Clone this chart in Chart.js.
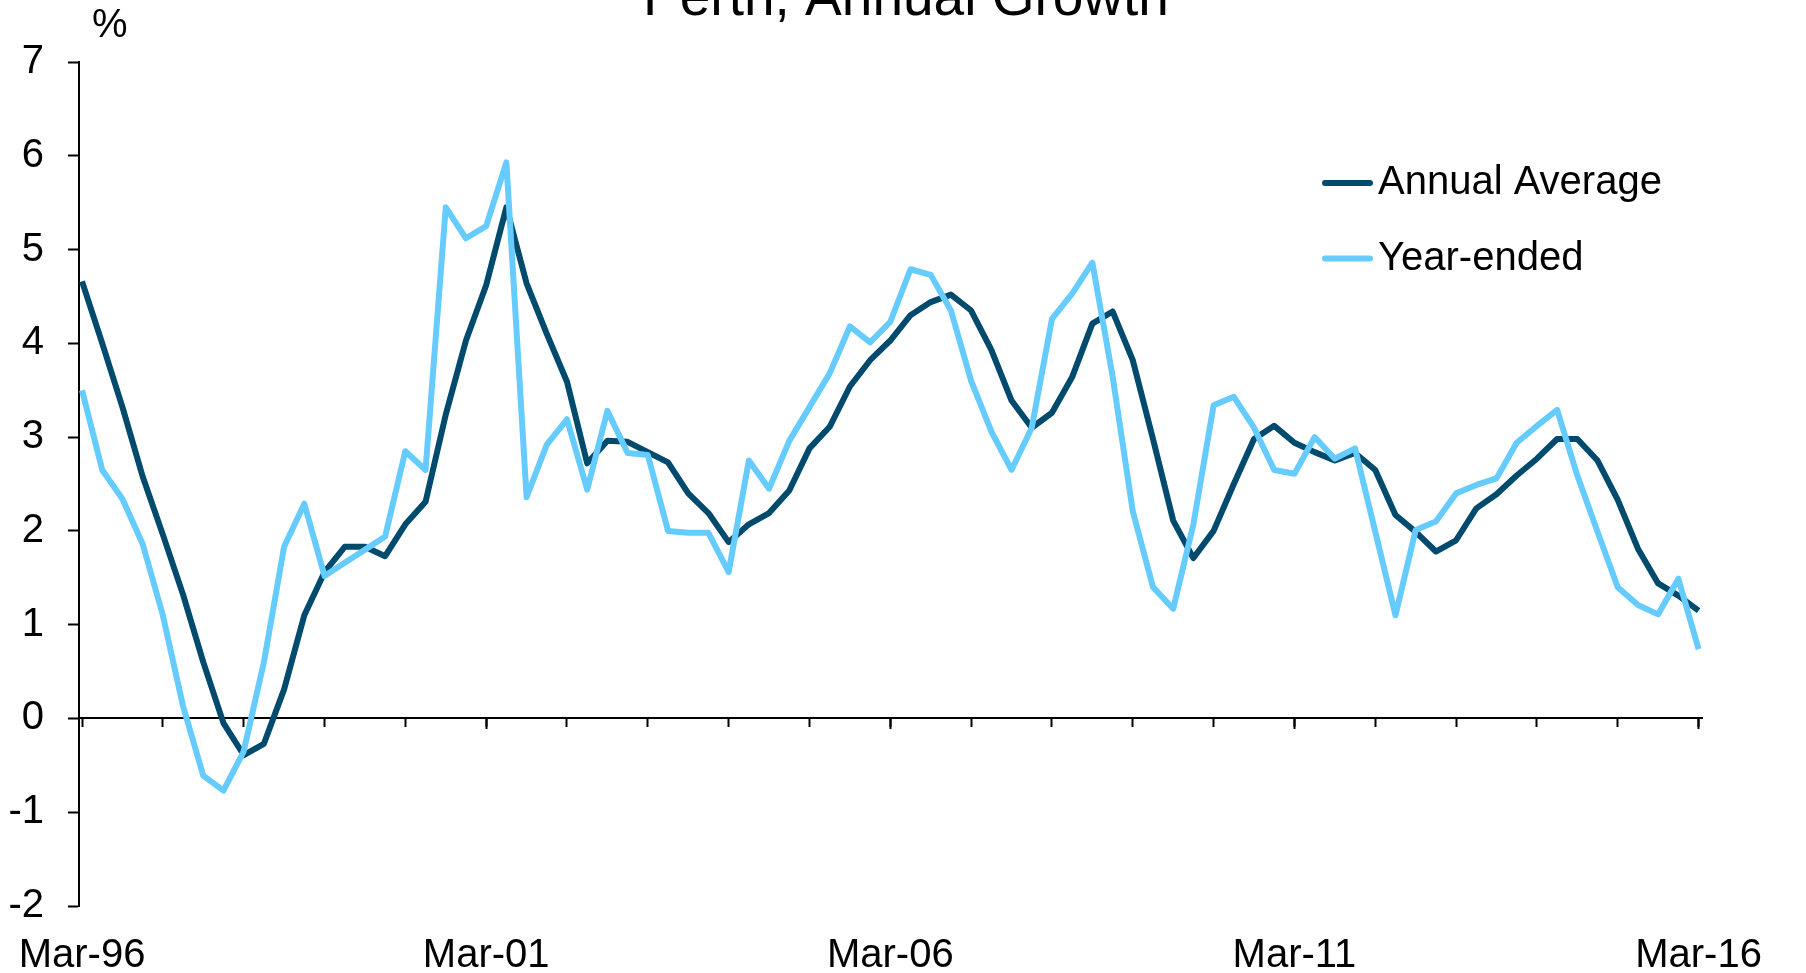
<!DOCTYPE html>
<html lang="en">
<head>
    <meta charset="UTF-8">
    <title>Perth, Annual Growth</title>
    <style>
        body { margin: 0; background: #fff; overflow: hidden; }
    </style>
</head>
<body>
<canvas id="chart" width="1806" height="973"></canvas>
<script src="https://cdn.jsdelivr.net/npm/chart.js@4.4.1/dist/chart.umd.min.js"></script>
<script>
// data, quarterly Mar-96 .. Mar-16
const years = ['96','97','98','99','00','01','02','03','04','05','06','07','08','09','10','11','12','13','14','15','16']
const months = ['Mar','Jun','Sep','Dec']
const quarters = []
years.forEach((y, i) => {
    months.forEach(m => {
        if (i < years.length - 1 || m === 'Mar') quarters.push(m + '-' + y)
    })
})

const annualAverage = [4.66, 4.00, 3.32, 2.58, 1.96, 1.32, 0.60, -0.05, -0.39, -0.27,
    0.31, 1.10, 1.56, 1.83, 1.83, 1.73, 2.07, 2.31, 3.24, 4.03,
    4.62, 5.45, 4.64, 4.10, 3.59, 2.72, 2.96, 2.95, 2.84, 2.73,
    2.40, 2.19, 1.88, 2.07, 2.19, 2.43, 2.88, 3.11, 3.54, 3.82,
    4.03, 4.30, 4.44, 4.52, 4.35, 3.93, 3.39, 3.10, 3.26, 3.64,
    4.21, 4.34, 3.82, 2.98, 2.11, 1.71, 2.00, 2.50, 2.98, 3.12,
    2.94, 2.84, 2.75, 2.83, 2.65, 2.17, 1.99, 1.78, 1.90, 2.24,
    2.39, 2.59, 2.77, 2.98, 2.98, 2.75, 2.33, 1.81, 1.44, 1.31,
    1.15]

const yearEnded = [3.50, 2.65, 2.34, 1.86, 1.10, 0.13, -0.61, -0.77, -0.35, 0.60,
    1.83, 2.29, 1.52, 1.66, 1.80, 1.94, 2.85, 2.65, 5.45, 5.12,
    5.25, 5.93, 2.36, 2.92, 3.19, 2.44, 3.28, 2.83, 2.81, 2.00,
    1.98, 1.98, 1.56, 2.75, 2.45, 2.96, 3.32, 3.68, 4.18, 4.01,
    4.23, 4.79, 4.73, 4.35, 3.60, 3.06, 2.65, 3.10, 4.26, 4.53,
    4.86, 3.65, 2.21, 1.40, 1.17, 2.07, 3.34, 3.43, 3.10, 2.65,
    2.61, 3.00, 2.77, 2.88, 1.99, 1.10, 2.01, 2.10, 2.40, 2.49,
    2.56, 2.94, 3.12, 3.29, 2.59, 1.99, 1.40, 1.21, 1.11, 1.49,
    0.74]

const xLabelTicks = [0, 20, 40, 60, 80]          // Mar-96, Mar-01, ... Mar-16
const xMinorTicks = [0, 4, 8, 12, 16, 20, 24, 28, 32, 36, 40, 44, 48, 52, 56, 60, 64, 68, 72, 76, 80]
const yTicks = [-2, -1, 0, 1, 2, 3, 4, 5, 6, 7]
const chartTitle = 'Perth, Annual Growth'

const FONT = '"Liberation Sans", Arial, sans-serif'
const DARK = '#004a6e'
const LIGHT = '#66ccff'

function toPoints(arr) {
    return arr.map((v, i) => ({ x: i, y: v }))
}

function setTicks(list) {
    return (scale) => { scale.ticks = list.map(v => ({ value: v })) }
}

// title, % label and legend
const textPlugin = {
    id: 'textPlugin',
    afterDraw(chart) {
        let c = chart.ctx
        c.save()
        c.fillStyle = '#000'
        c.textAlign = 'center'
        c.textBaseline = 'alphabetic'
        c.font = '55px ' + FONT
        c.fillText(chartTitle, 906, 15)

        c.font = '40px ' + FONT
        c.textAlign = 'left'
        c.fillText('%', 92, 37)

        chart.data.datasets.forEach((ds, i) => {
            let y = 183 + i * 75.5
            c.strokeStyle = ds.borderColor
            c.lineWidth = 6
            c.lineCap = 'round'
            c.beginPath()
            c.moveTo(1325, y)
            c.lineTo(1370, y)
            c.stroke()
            c.textBaseline = 'middle'
            c.fillText(ds.label, 1378, y)
        })
        c.restore()
    }
}

var ctx, charts
window.addEventListener('load', function () {
    ctx = document.getElementById('chart')
    charts = new Chart(ctx, {
        type: 'line',
        data: {
            datasets: [
                {
                    label: 'Annual Average',
                    data: toPoints(annualAverage),
                    borderColor: DARK,
                    borderWidth: 6,
                    pointRadius: 0,
                    tension: 0,
                    borderJoinStyle: 'round',
                    order: 2
                },
                {
                    label: 'Year-ended',
                    data: toPoints(yearEnded),
                    borderColor: LIGHT,
                    borderWidth: 6,
                    pointRadius: 0,
                    tension: 0,
                    borderJoinStyle: 'round',
                    order: 1
                }
            ]
        },
        options: {
            responsive: false,
            animation: false,
            layout: { padding: { top: 62, right: 104, left: 0, bottom: 0 } },
            plugins: {
                legend: { display: false },
                title: { display: false },
                tooltip: { enabled: false }
            },
            scales: {
                x: {
                    type: 'linear',
                    position: 'bottom',
                    min: -0.15,
                    max: 80.17,
                    afterBuildTicks: setTicks(xLabelTicks),
                    afterFit: (s) => { s.height = 67 },
                    border: { display: false },
                    // hidden tick marks only used to push labels down
                    grid: { display: false, drawTicks: true, tickLength: 26 },
                    ticks: {
                        color: '#000',
                        font: { family: FONT, size: 40 },
                        padding: 0,
                        maxRotation: 0,
                        autoSkip: false,
                        callback: (v) => quarters[v]
                    }
                },
                xMinor: {
                    type: 'linear',
                    position: { y: 0 },
                    min: -0.15,
                    max: 80.17,
                    afterBuildTicks: setTicks(xMinorTicks),
                    border: { display: true, color: '#000', width: 2 },
                    grid: { drawOnChartArea: false, drawTicks: true, tickLength: 8, tickWidth: 2, tickColor: '#000' },
                    ticks: { display: false }
                },
                xMajor: {
                    type: 'linear',
                    position: { y: 0 },
                    min: -0.15,
                    max: 80.17,
                    afterBuildTicks: setTicks(xLabelTicks.slice(1)),
                    border: { display: false },
                    grid: { drawOnChartArea: false, drawTicks: true, tickLength: 11, tickWidth: 2, tickColor: '#000' },
                    ticks: { display: false }
                },
                y: {
                    min: -2,
                    max: 7,
                    afterBuildTicks: setTicks(yTicks),
                    afterFit: (s) => { s.width = 79 },
                    border: { display: true, color: '#000', width: 2 },
                    grid: { drawOnChartArea: false, drawTicks: true, tickLength: 11, tickWidth: 2, tickColor: '#000' },
                    ticks: {
                        color: '#000',
                        font: { family: FONT, size: 40 },
                        padding: 24,
                        callback: (v) => String(v)
                    }
                }
            }
        },
        plugins: [textPlugin]
    })
})
</script>
</body>
</html>
